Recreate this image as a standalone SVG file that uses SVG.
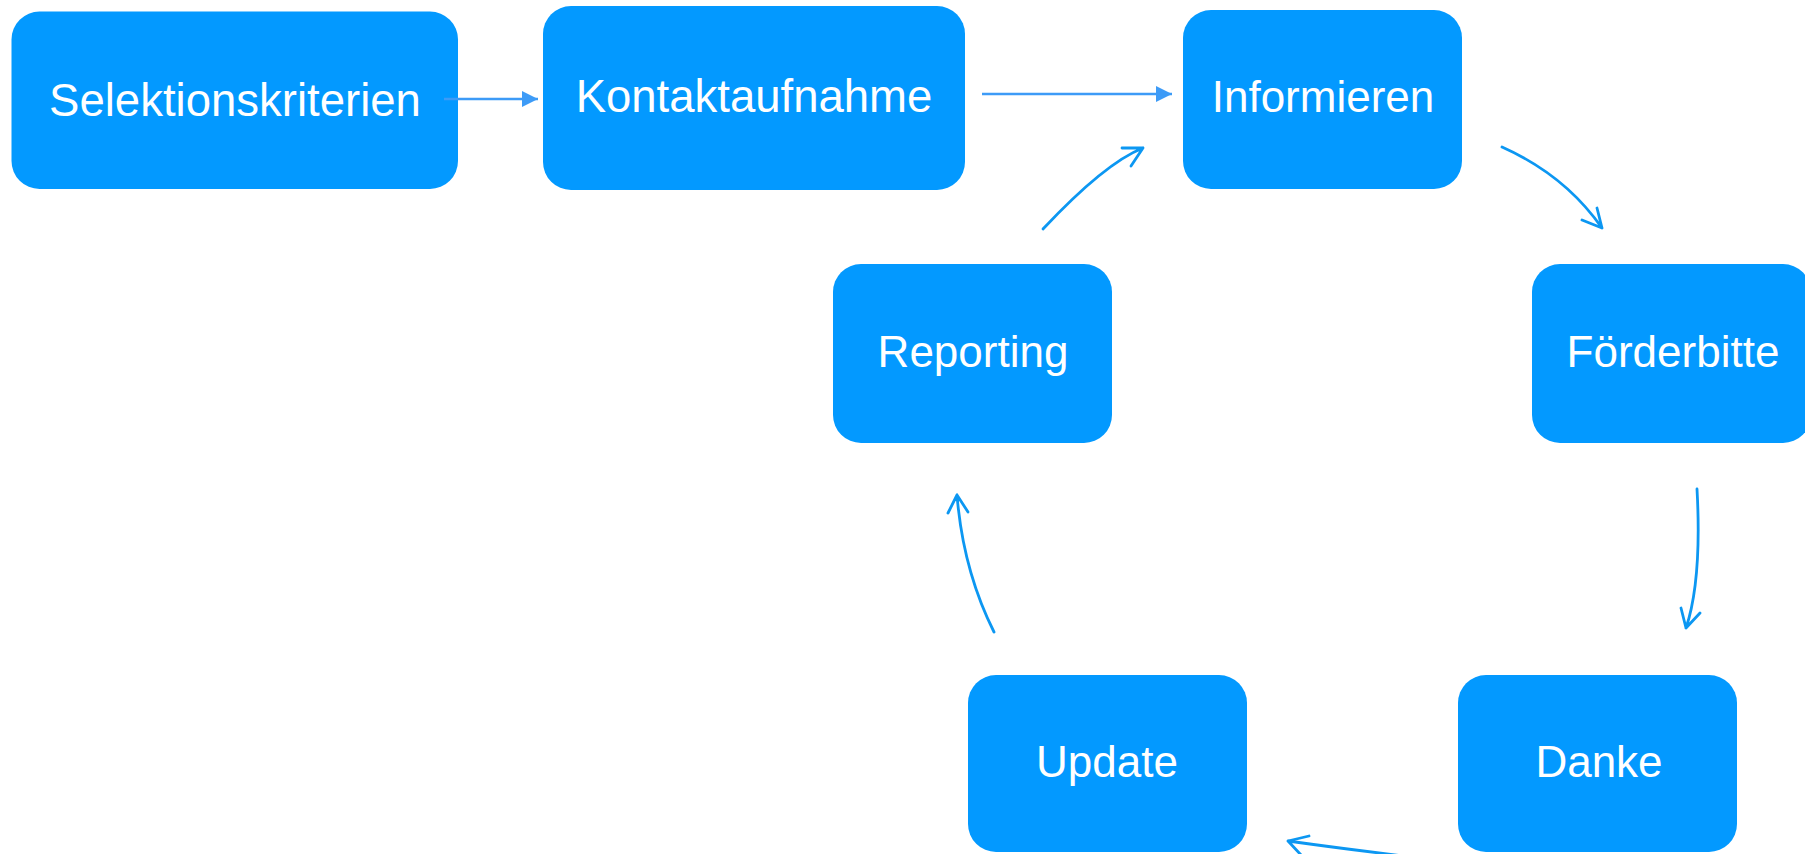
<svg xmlns="http://www.w3.org/2000/svg" width="1805" height="854" viewBox="0 0 1805 854">
<defs>
<style>
.box{fill:#0399FF}
.lbl{font-family:"Liberation Sans",Arial,sans-serif;font-size:44px;fill:#FFFFFF;text-anchor:middle}
.big{font-size:45.5px}
.st{stroke:#3D9BF7;stroke-width:2.5;fill:none}
.sk{stroke:#0C97F2;stroke-width:2.8;fill:none;stroke-linecap:round;stroke-linejoin:round}
</style>
<marker id="tri" markerWidth="16" markerHeight="16" viewBox="0 0 16 16" refX="16" refY="8" orient="auto" markerUnits="userSpaceOnUse">
<path d="M0,0 L16,8 L0,16 Z" fill="#3D9BF7"/>
</marker>
</defs>
<rect width="1805" height="854" fill="#FFFFFF"/>
<g id="n-selektion"><rect class="box" x="11.5" y="11.5" width="446.5" height="177.5" rx="28"/><text class="lbl big" x="235" y="116">Selektionskriterien</text></g>
<g id="n-kontakt"><rect class="box" x="543" y="6" width="422" height="184" rx="28"/><text class="lbl big" x="754" y="112">Kontaktaufnahme</text></g>
<g id="n-informieren"><rect class="box" x="1183" y="10" width="279" height="179" rx="28"/><text class="lbl" x="1323" y="112">Informieren</text></g>
<g id="n-reporting"><rect class="box" x="833" y="264" width="279" height="179" rx="28"/><text class="lbl" x="973" y="367">Reporting</text></g>
<g id="n-foerderbitte"><rect class="box" x="1532" y="264" width="279" height="179" rx="28"/><text class="lbl" x="1673" y="367">Förderbitte</text></g>
<g id="n-update"><rect class="box" x="968" y="675" width="279" height="177" rx="28"/><text class="lbl" x="1107" y="777">Update</text></g>
<g id="n-danke"><rect class="box" x="1458" y="675" width="279" height="177" rx="28"/><text class="lbl" x="1599" y="777">Danke</text></g>
<g id="connectors">
<path class="st" d="M444,99 L538,99" marker-end="url(#tri)"/>
<path class="st" d="M982,94 L1172,94" marker-end="url(#tri)"/>
<path class="sk" d="M1043,229 Q1105,163 1143,148 M1143,148 L1122,148 M1143,148 L1131,166"/>
<path class="sk" d="M1502,147 Q1565,175 1602,228 M1602,228 L1582,220 M1602,228 L1597,208"/>
<path class="sk" d="M1697,489 Q1702,580 1686,628 M1686,628 L1681,608 M1686,628 L1700,613"/>
<path class="sk" d="M1420,858 Q1345,849 1288,841 M1288,841 L1309,836 M1288,841 L1302,856"/>
<path class="sk" d="M994,632 Q963,570 957,495 M957,495 L948,513 M957,495 L968,512"/>
</g>
</svg>
